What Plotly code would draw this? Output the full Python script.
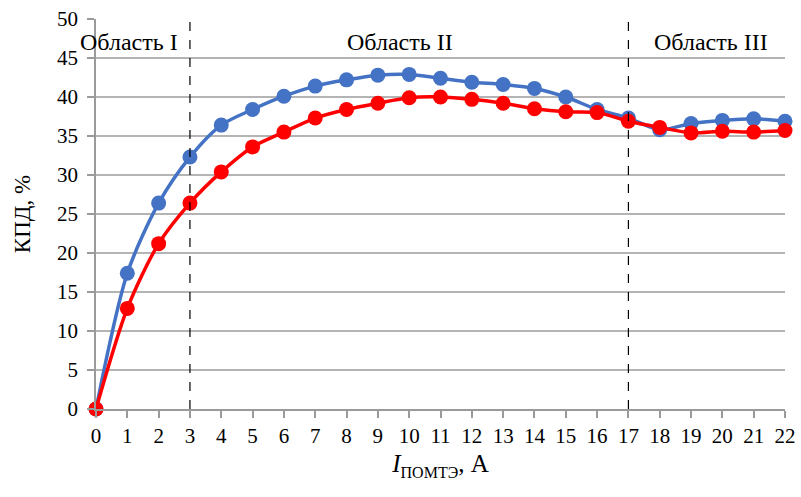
import plotly.graph_objects as go

x_vals = list(range(0, 23))
blue_vals = [0, 17.4, 26.4, 32.3, 36.4, 38.4, 40.1, 41.4, 42.2, 42.8, 42.9, 42.4, 41.9, 41.6,
             41.1, 40.0, 38.4, 37.3, 35.8, 36.6, 37.0, 37.2, 36.9]
red_vals = [0, 12.9, 21.2, 26.4, 30.4, 33.6, 35.5, 37.3, 38.4, 39.2, 39.9, 40.0, 39.7, 39.2,
            38.5, 38.1, 38.0, 36.9, 36.1, 35.4, 35.6, 35.5, 35.7]
region_bounds = [3, 17]
region_labels = ["Область I", "Область II", "Область III"]
region_label_x = [1.05, 9.7, 19.65]
y_ticks = list(range(0, 51, 5))

FONT = "Liberation Serif"

fig = go.Figure()
fig.add_trace(go.Scatter(x=x_vals, y=blue_vals, mode="lines+markers", cliponaxis=False,
                         line=dict(color="#4472C4", width=3.5, shape="spline", smoothing=0.8),
                         marker=dict(color="#4472C4", size=15), showlegend=False))
fig.add_trace(go.Scatter(x=x_vals, y=red_vals, mode="lines+markers", cliponaxis=False,
                         line=dict(color="#FF0000", width=3.5, shape="spline", smoothing=0.8),
                         marker=dict(color="#FF0000", size=15), showlegend=False))

for b in region_bounds:
    fig.add_shape(type="line", x0=b, x1=b, y0=0, y1=50, xref="x", yref="y",
                  line=dict(color="black", width=1.2, dash="dash"))

for lbl, lx in zip(region_labels, region_label_x):
    fig.add_annotation(x=lx, y=47.0, text=lbl, showarrow=False, xref="x", yref="y",
                       font=dict(family=FONT, size=24, color="black"))

fig.update_layout(
    width=801, height=497,
    margin=dict(l=96, r=16, t=19, b=88),
    paper_bgcolor="white", plot_bgcolor="white",
    font=dict(family=FONT, size=21, color="black"),
    xaxis=dict(range=[0, 22], tickmode="array", tickvals=x_vals,
               ticktext=[str(v) for v in x_vals], automargin=False,
               showgrid=False, zeroline=False, showline=True, linecolor="#9a9a9a", linewidth=1.5,
               ticks="outside", ticklen=7, tickcolor="#9a9a9a", tickwidth=1.5,
               tickfont=dict(family=FONT, size=21),
               title=dict(text="<i>I</i><sub><span style='font-size:16px'>ПОМТЭ</span></sub>, А",
                          font=dict(family=FONT, size=25), standoff=8)),
    yaxis=dict(range=[0, 50], tickmode="array", tickvals=y_ticks, automargin=False,
               showgrid=True, gridcolor="#b4b4b4", gridwidth=1.5, zeroline=False,
               showline=True, linecolor="#9a9a9a", linewidth=1.5,
               ticks="outside", ticklen=7, tickcolor="#9a9a9a", tickwidth=1.5,
               ticklabelstandoff=5,
               tickfont=dict(family=FONT, size=21),
               title=dict(text="КПД, %", font=dict(family=FONT, size=23), standoff=20)),
)

fig.write_html("out.html", config={"displayModeBar": False},
               post_script="document.body.style.margin='0';")
